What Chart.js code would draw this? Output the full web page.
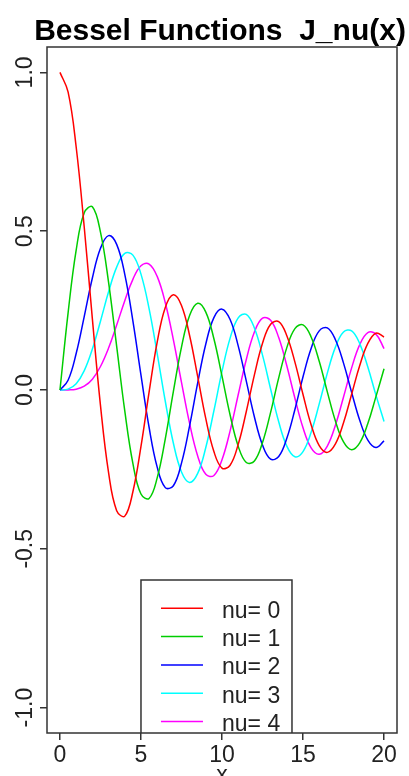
<!DOCTYPE html>
<html>
<head>
<meta charset="utf-8">
<script src="https://cdn.jsdelivr.net/npm/chart.js@4.4.0/dist/chart.umd.min.js"></script>
<style>
  body { margin: 0; background: #fff; }
  #wrap { width: 409px; height: 776px; }
</style>
</head>
<body>
<div id="wrap"><canvas id="myChart" width="409" height="776"></canvas></div>
<script>
// x values where the curves were read
const xs = [0, 0.5, 1, 1.5, 2, 2.5, 3, 3.5, 4, 4.5, 5, 5.5, 6, 6.5, 7, 7.5, 8, 8.5, 9, 9.5, 10,
  10.5, 11, 11.5, 12, 12.5, 13, 13.5, 14, 14.5, 15, 15.5, 16, 16.5, 17, 17.5, 18, 18.5, 19, 19.5, 20];

const nu0 = [1, 0.9385, 0.7652, 0.5118, 0.2239, -0.0484, -0.2601, -0.3801, -0.3971, -0.3205, -0.1776,
  -0.0068, 0.1506, 0.2601, 0.3001, 0.2663, 0.1717, 0.0419, -0.0903, -0.1939, -0.2459,
  -0.2368, -0.1712, -0.0677, 0.0477, 0.1470, 0.2069, 0.2151, 0.1711, 0.0879, -0.0142,
  -0.1093, -0.1749, -0.1964, -0.1699, -0.1033, -0.0134, 0.0773, 0.1466, 0.1789, 0.1670];
const nu1 = [0, 0.2423, 0.4401, 0.5579, 0.5767, 0.4971, 0.3391, 0.1374, -0.0660, -0.2311, -0.3276,
  -0.3414, -0.2767, -0.1538, -0.0047, 0.1352, 0.2346, 0.2731, 0.2453, 0.1613, 0.0435,
  -0.0788, -0.1768, -0.2283, -0.2234, -0.1653, -0.0703, 0.0380, 0.1334, 0.1933, 0.2051,
  0.1671, 0.0904, -0.0058, -0.0977, -0.1634, -0.1880, -0.1666, -0.1057, -0.0209, 0.0668];
const nu2 = [0, 0.0306, 0.1149, 0.2321, 0.3528, 0.4461, 0.4861, 0.4586, 0.3641, 0.2178, 0.0466,
  -0.1173, -0.2429, -0.3074, -0.3014, -0.2303, -0.1130, 0.0223, 0.1448, 0.2279, 0.2546,
  0.2218, 0.1390, 0.0280, -0.0849, -0.1734, -0.2178, -0.2095, -0.1520, -0.0612, 0.0416,
  0.1309, 0.1862, 0.1957, 0.1584, 0.0846, -0.0075, -0.0953, -0.1578, -0.1810, -0.1603];
const nu3 = [0, 0.0026, 0.0196, 0.0610, 0.1289, 0.2167, 0.3091, 0.3868, 0.4302, 0.4247, 0.3648,
  0.2561, 0.1148, -0.0354, -0.1676, -0.2580, -0.2911, -0.2626, -0.1809, -0.0653, 0.0584,
  0.1633, 0.2273, 0.2380, 0.1951, 0.1098, 0.0033, -0.1001, -0.1768, -0.2102, -0.1940,
  -0.1333, -0.0438, 0.0532, 0.1350, 0.1827, 0.1863, 0.1460, 0.0725, -0.0162, -0.0989];
const nu4 = [0, 0.0002, 0.0025, 0.0119, 0.0339, 0.0740, 0.1321, 0.2045, 0.2812, 0.3485, 0.3912,
  0.3967, 0.3577, 0.2747, 0.1577, 0.0239, -0.1053, -0.2077, -0.2654, -0.2691, -0.2196,
  -0.1285, -0.0150, 0.0962, 0.1825, 0.2261, 0.2193, 0.1650, 0.0762, -0.0258, -0.1192,
  -0.1825, -0.2026, -0.1764, -0.1108, -0.0220, 0.0696, 0.1427, 0.1807, 0.1760, 0.1306];

const seriesNames = ['nu= 0', 'nu= 1', 'nu= 2', 'nu= 3', 'nu= 4'];
const seriesColors = ['#ff0000', '#00cd00', '#0000ff', '#00ffff', '#ff00ff'];
const xTicks = [0, 5, 10, 15, 20];
const yTicks = [-1, -0.5, 0, 0.5, 1];
const yTickLabels = ['-1.0', '-0.5', '0.0', '0.5', '1.0'];

const FONT = "'Liberation Sans', Arial, sans-serif";
const allSeries = [nu0, nu1, nu2, nu3, nu4];

const datasets = allSeries.map((vals, k) => ({
  label: seriesNames[k],
  data: xs.map((x, i) => ({ x: x, y: vals[i] })),
  borderColor: seriesColors[k],
  borderWidth: 1.5,
  pointRadius: 0,
  tension: 0.4,
  fill: false
}));

// R-style extras: box, rotated y labels, title, axis name, legend
const rDecor = {
  id: 'rDecor',
  beforeDraw(chart) {
    const c = chart.ctx;
    c.save();
    c.fillStyle = '#fff';
    c.fillRect(0, 0, chart.width, chart.height);
    c.restore();
  },
  afterDraw(chart) {
    const c = chart.ctx;
    const a = chart.chartArea;
    const ys = chart.scales.y;
    const xsc = chart.scales.x;
    c.save();
    // plot box
    c.strokeStyle = '#333';
    c.lineWidth = 1.5;
    c.strokeRect(a.left, a.top, a.right - a.left, a.bottom - a.top);

    // y labels, rotated like R's las=0
    c.fillStyle = '#222';
    c.font = '23px ' + FONT;
    c.textAlign = 'center';
    c.textBaseline = 'alphabetic';
    yTicks.forEach((v, i) => {
      const py = ys.getPixelForValue(v);
      c.save();
      c.translate(32, py);
      c.rotate(-Math.PI / 2);
      c.fillText(yTickLabels[i], 0, 0);
      c.restore();
    });

    // x axis name
    c.textBaseline = 'alphabetic';
    c.fillText('x', (a.left + a.right) / 2, 782);

    // title
    c.fillStyle = '#000';
    c.font = 'bold 30px ' + FONT;
    c.fillText('Bessel Functions  J_nu(x)', (a.left + a.right) / 2 - 2, 40);

    // legend, clipped to the plot region
    c.beginPath();
    c.rect(a.left, a.top, a.right - a.left, a.bottom - a.top);
    c.clip();
    const lx = xsc.getPixelForValue(5);
    const ly = 580;
    c.strokeStyle = '#333';
    c.lineWidth = 1.5;
    c.strokeRect(lx, ly, 151, 200);
    c.font = '23px ' + FONT;
    c.textAlign = 'left';
    c.textBaseline = 'middle';
    chart.data.datasets.forEach((ds, k) => {
      const yy = ly + 28.3 * (k + 1);
      c.strokeStyle = ds.borderColor;
      c.lineWidth = 1.5;
      c.beginPath();
      c.moveTo(lx + 20, yy);
      c.lineTo(lx + 62, yy);
      c.stroke();
      c.fillStyle = '#222';
      c.fillText(ds.label, lx + 81, yy + 3);
    });
    c.restore();
  }
};

const ctx = document.getElementById('myChart');
new Chart(ctx, {
  type: 'line',
  data: { datasets: datasets },
  options: {
    responsive: false,
    animation: false,
    layout: { padding: { top: 47, right: 12, left: 0, bottom: 0 } },
    plugins: {
      legend: { display: false },
      title: { display: false },
      tooltip: { enabled: false }
    },
    scales: {
      x: {
        type: 'linear',
        min: -0.8,
        max: 20.8,
        afterBuildTicks: (scale) => { scale.ticks = xTicks.map(v => ({ value: v })); },
        afterFit: (scale) => { scale.height = 43; },
        grid: { drawOnChartArea: false, drawTicks: true, tickLength: 7, color: '#333', lineWidth: 1.5 },
        border: { display: false },
        ticks: {
          color: '#222',
          padding: 2,
          maxRotation: 0,
          font: { family: FONT, size: 23 },
          callback: (v) => String(v)
        }
      },
      y: {
        type: 'linear',
        min: -1.08,
        max: 1.08,
        afterBuildTicks: (scale) => { scale.ticks = yTicks.map(v => ({ value: v })); },
        afterFit: (scale) => { scale.width = 47; },
        grid: { drawOnChartArea: false, drawTicks: true, tickLength: 7, color: '#333', lineWidth: 1.5 },
        border: { display: false },
        ticks: { display: false }
      }
    }
  },
  plugins: [rDecor]
});
</script>
</body>
</html>
